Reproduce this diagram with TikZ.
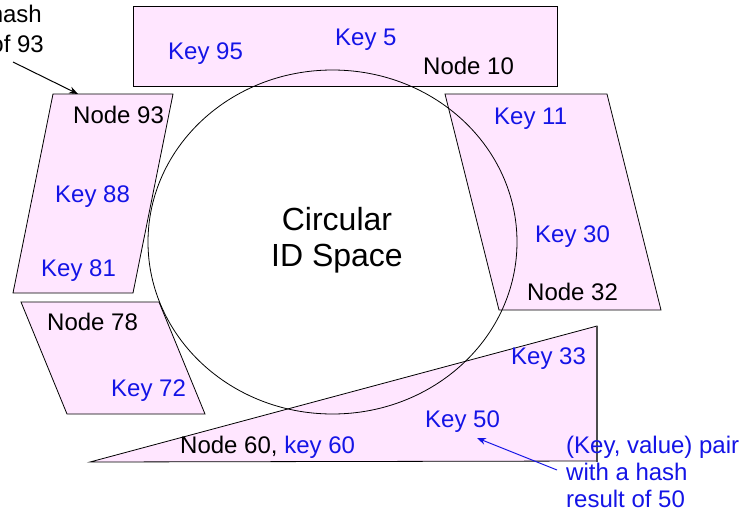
\documentclass[tikz,border=0pt]{standalone}
\usepackage{fontspec}
\setmainfont{Liberation Sans}
\usetikzlibrary{arrows.meta}
\definecolor{zonefill}{RGB}{255,230,255}
\definecolor{keyblue}{RGB}{20,20,230}
\begin{document}
\begin{tikzpicture}[x=1pt,y=-1pt,
  zone/.style={draw=black,fill=zonefill,line width=0.8pt,line join=miter},
  ring/.style={draw=black,line width=0.8pt},
  nodetxt/.style={font=\fontsize{24}{28}\selectfont,text=black,inner sep=0pt,anchor=base west},
  keytxt/.style={font=\fontsize{24}{28}\selectfont,text=keyblue,inner sep=0pt,anchor=base west},
  pointer/.style={line width=1pt,-{Stealth[length=9pt,width=7pt]}}]
\useasboundingbox (0,0) rectangle (740,512);

% ownership zones of the nodes
\draw[zone] (133,6) rectangle (557,86);
\draw[zone] (53,94) -- (173,94) -- (133,293) -- (13,293) -- cycle;
\draw[zone] (21,302) -- (159,302) -- (205,414) -- (67,414) -- cycle;
\draw[zone] (445,94) -- (607,94) -- (661,310) -- (499,310) -- cycle;
\draw[zone] (90,462) -- (597,326) -- (597,461) -- cycle;
\draw[draw=black!70,line width=1.6pt] (597,326) -- (597,462);

% the identifier ring
\draw[ring] (332.5,242) ellipse [x radius=184.5, y radius=172];
\node[font=\fontsize{32}{36}\selectfont,align=center,inner sep=0pt] (ring) at (337,240)
  {Circular\\ID Space};

% node and key labels
\node[keytxt]  (k95) at (168,59)  {Key 95};
\node[keytxt]  (k5)  at (335,45)  {Key 5};
\node[nodetxt] (n10) at (423,74)  {Node 10};
\node[nodetxt] (n93) at (73,123)  {Node 93};
\node[keytxt]  (k88) at (55,202)  {Key 88};
\node[keytxt]  (k81) at (41,276)  {Key 81};
\node[nodetxt] (n78) at (47,330)  {Node 78};
\node[keytxt]  (k72) at (111,396) {Key 72};
\node[keytxt]  (k11) at (494,124) {Key 11};
\node[keytxt]  (k30) at (535,242) {Key 30};
\node[nodetxt] (n32) at (527,300) {Node 32};
\node[keytxt]  (k33) at (511,364) {Key 33};
\node[keytxt]  (k50) at (425,427) {Key 50};
\node[nodetxt] (n60) at (180,453) {Node 60, \textcolor{keyblue}{key 60}};

% annotations
\node[font=\fontsize{24}{28}\selectfont,inner sep=0pt,anchor=base east] (hashA) at (42,22) {hash};
\node[font=\fontsize{24}{28}\selectfont,inner sep=0pt,anchor=base east] (hashB) at (44,52) {of 93};
\node[font=\fontsize{24}{27}\selectfont,text=keyblue,inner sep=0pt,anchor=base west,align=left]
  (pair) at (566,507) {(Key, value) pair\\with a hash\\result of 50};

\coordinate (tail93) at (13,62);
\coordinate (tip93) at (78,94);
\draw[pointer,draw=black] (tail93) -- (tip93);
\coordinate (tail50) at (557,470);
\coordinate (tip50) at (477,438);
\draw[pointer,draw=keyblue] (tail50) -- (tip50);
\end{tikzpicture}
\end{document}
